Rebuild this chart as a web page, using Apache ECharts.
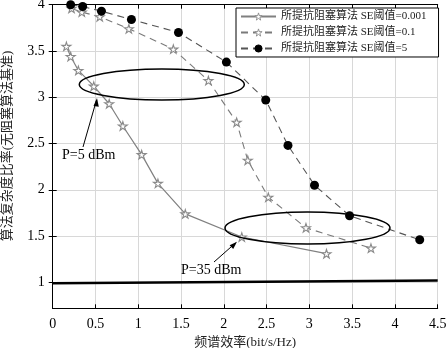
<!DOCTYPE html>
<html><head><meta charset="utf-8">
<script src="https://cdn.jsdelivr.net/npm/echarts@6/dist/echarts.min.js"></script>
<style>html,body{margin:0;padding:0;background:#fff}#c{width:446px;height:348px}</style>
</head><body><div id="c"></div>
<script>
// ---- data ----
const seriesNames = ['所提抗阻塞算法 SE阈值=0.001', '所提抗阻塞算法 SE阈值=0.1', '所提抗阻塞算法 SE阈值=5'];
const x1 = [0.16, 0.21, 0.30, 0.48, 0.66, 0.82, 1.04, 1.23, 1.55, 2.21, 3.20];
const y1 = [3.55, 3.44, 3.29, 3.12, 2.93, 2.69, 2.38, 2.07, 1.74, 1.49, 1.31];
const x2 = [0.22, 0.34, 0.55, 0.89, 1.41, 1.82, 2.15, 2.28, 2.52, 2.96, 3.72];
const y2 = [3.96, 3.92, 3.87, 3.74, 3.52, 3.18, 2.73, 2.32, 1.92, 1.59, 1.37];
const x3 = [0.21, 0.35, 0.57, 0.92, 1.47, 2.03, 2.49, 2.75, 3.06, 3.47, 4.29];
const y3 = [4.00, 3.98, 3.93, 3.84, 3.70, 3.38, 2.97, 2.48, 2.05, 1.72, 1.46];
const baseX = [0, 4.5];
const baseY = [0.99, 1.02];
const xTicks = [0, 0.5, 1, 1.5, 2, 2.5, 3, 3.5, 4, 4.5];
const yTicks = [1, 1.5, 2, 2.5, 3, 3.5, 4];
const yMin = 0.72;
const xLabel = '频谱效率(bit/s/Hz)';
const yLabel = '算法复杂度比率(无阻塞算法基准)';
const noteLow = 'P=5 dBm';
const noteHigh = 'P=35 dBm';

const zip = (a, b) => a.map((v, i) => [v, b[i]]);
const star = 'path://M50,0 L61,35 L98,35 L68,57 L79,91 L50,70 L21,91 L32,57 L2,35 L39,35 Z';
const FONT = '"Liberation Serif", "Noto Sans CJK SC", serif';

const chart = echarts.init(document.getElementById('c'), null, {renderer: 'canvas'});
const G = {left: 52.7, right: 8.3, top: 4.7, bottom: 39.7, containLabel: false, outerBoundsMode: 'none'};
const axLine = {show: true, lineStyle: {color: '#000', width: 1}};
const tickX = {show: true, inside: true, length: 4, lineStyle: {color: '#000'}};
const tickY = {show: true, inside: true, length: 4, lineStyle: {color: '#000'}, customValues: yTicks};
chart.setOption({
  animation: false,
  backgroundColor: '#fff',
  grid: G,
  legend: {
    data: seriesNames,
    orient: 'vertical',
    left: 236, top: 8,
    padding: [3, 12, 3, 4],
    itemWidth: 35, itemHeight: 9, itemGap: 5,
    itemStyle: {borderWidth: 0.9},
    backgroundColor: '#fff',
    borderColor: '#000', borderWidth: 1, borderRadius: 0,
    textStyle: {fontFamily: FONT, fontSize: 11, color: '#222'}
  },
  xAxis: [{
    type: 'value', min: xTicks[0], max: xTicks[xTicks.length - 1], interval: 0.5,
    axisLine: axLine, axisTick: tickX,
    axisLabel: {fontFamily: FONT, fontSize: 14, color: '#000', margin: 9},
    splitLine: {show: true, lineStyle: {color: '#d8d8d8', width: 1}},
    name: xLabel, nameLocation: 'middle', nameGap: 27,
    nameTextStyle: {fontFamily: FONT, fontSize: 13, color: '#222'}
  }, {
    type: 'value', position: 'top', min: xTicks[0], max: xTicks[xTicks.length - 1], interval: 0.5,
    axisLine: axLine, axisTick: tickX, axisLabel: {show: false}, splitLine: {show: false}
  }],
  yAxis: [{
    type: 'value', min: yMin, max: yTicks[yTicks.length - 1],
    axisLine: axLine, axisTick: tickY,
    axisLabel: {fontFamily: FONT, fontSize: 14, color: '#000', margin: 8, customValues: yTicks},
    splitLine: {show: false}
  }, {
    type: 'value', position: 'right', min: yMin, max: yTicks[yTicks.length - 1],
    axisLine: axLine, axisTick: tickY, axisLabel: {show: false}, splitLine: {show: false}
  }],
  series: [
    {
      name: '__base', type: 'line', data: zip(baseX, baseY), symbol: 'none',
      lineStyle: {color: '#000', width: 2.6}, silent: true, z: 2,
      markLine: {
        silent: true, symbol: 'none', label: {show: false}, animation: false,
        lineStyle: {color: '#d8d8d8', width: 1, type: 'solid'},
        data: yTicks.map(v => ({yAxis: v})), z: 0
      }
    },
    {
      name: seriesNames[0], type: 'line', data: zip(x1, y1),
      symbol: star, symbolSize: 9, symbolKeepAspect: true, showAllSymbol: true,
      lineStyle: {color: '#808080', width: 1.2, type: 'solid'},
      itemStyle: {color: '#fff', borderColor: '#8a8a8a', borderWidth: 1.1}, z: 3
    },
    {
      name: seriesNames[1], type: 'line', data: zip(x2, y2),
      symbol: star, symbolSize: 9, symbolKeepAspect: true, showAllSymbol: true,
      lineStyle: {color: '#7a7a7a', width: 1.1, type: [7, 5]},
      itemStyle: {color: '#fff', borderColor: '#8a8a8a', borderWidth: 1.1}, z: 3
    },
    {
      name: seriesNames[2], type: 'line', data: zip(x3, y3),
      symbol: 'circle', symbolSize: 9, showAllSymbol: true,
      lineStyle: {color: '#555', width: 1.1, type: [7, 5]},
      itemStyle: {color: '#000', borderColor: '#000', borderWidth: 0}, z: 3
    }
  ],
  graphic: [
    {type: 'text', x: 8, y: 146, rotation: Math.PI / 2,
      style: {text: yLabel, fontFamily: FONT, fontSize: 13, fill: '#222', align: 'center', verticalAlign: 'middle'}, z: 10},
    {type: 'ellipse', shape: {cx: 161.8, cy: 84.5, rx: 82.5, ry: 15.5},
      style: {fill: 'none', stroke: '#000', lineWidth: 1.5}, z: 10},
    {type: 'ellipse', shape: {cx: 307.5, cy: 228, rx: 82.5, ry: 16},
      style: {fill: 'none', stroke: '#000', lineWidth: 1.5}, z: 10},
    {type: 'line', shape: {x1: 83, y1: 147, x2: 96.5, y2: 100},
      style: {stroke: '#000', lineWidth: 1}, z: 10},
    {type: 'polygon', shape: {points: [[97, 98], [93.5, 106], [98.8, 106.8]]},
      style: {fill: '#000'}, z: 10},
    {type: 'line', shape: {x1: 214, y1: 262, x2: 235.5, y2: 243},
      style: {stroke: '#000', lineWidth: 1}, z: 10},
    {type: 'polygon', shape: {points: [[237, 241.7], [229.6, 245.3], [233.2, 249]]},
      style: {fill: '#000'}, z: 10},
    {type: 'text', x: 62, y: 155,
      style: {text: noteLow, fontFamily: FONT, fontSize: 14, fill: '#000', verticalAlign: 'middle'}, z: 10},
    {type: 'text', x: 181, y: 270,
      style: {text: noteHigh, fontFamily: FONT, fontSize: 14, fill: '#000', verticalAlign: 'middle'}, z: 10}
  ]
});
</script>
</body></html>
